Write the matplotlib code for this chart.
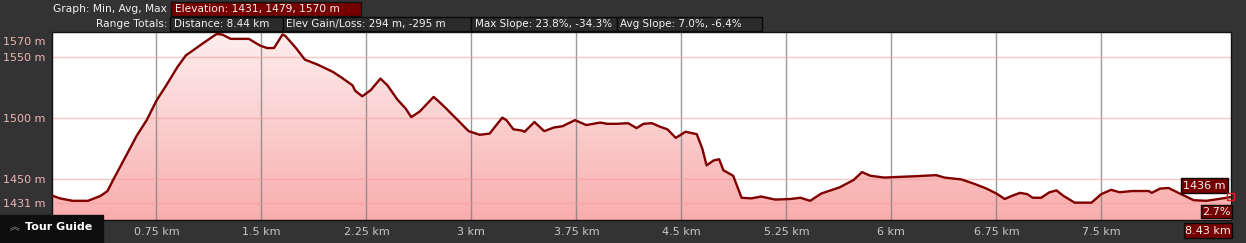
import matplotlib.pyplot as plt
from matplotlib.patches import Rectangle
from matplotlib.colors import LinearSegmentedColormap
import matplotlib.transforms as mtransforms
import numpy as np

# ---- data (distance in km, elevation in m)
dist_km = [0.00, 0.06, 0.15, 0.26, 0.35, 0.40, 0.44, 0.51, 0.61, 0.68,
           0.75, 0.82, 0.90, 0.96, 1.01, 1.09, 1.18, 1.22, 1.28, 1.32,
           1.41, 1.49, 1.54, 1.59, 1.65, 1.67, 1.75, 1.81, 1.90, 2.01,
           2.07, 2.15, 2.17, 2.22, 2.28, 2.35, 2.40, 2.47, 2.53, 2.57,
           2.63, 2.73, 2.76, 2.82, 2.85, 2.92, 2.98, 3.06, 3.13, 3.22,
           3.25, 3.30, 3.36, 3.38, 3.45, 3.52, 3.59, 3.65, 3.74, 3.82,
           3.92, 3.97, 4.04, 4.12, 4.18, 4.23, 4.29, 4.35, 4.40, 4.46,
           4.53, 4.61, 4.65, 4.68, 4.73, 4.77, 4.80, 4.87, 4.93, 5.00,
           5.07, 5.17, 5.28, 5.35, 5.42, 5.50, 5.63, 5.73, 5.79, 5.85,
           5.95, 6.04, 6.15, 6.32, 6.38, 6.50, 6.59, 6.68, 6.75, 6.81,
           6.86, 6.92, 6.97, 7.01, 7.07, 7.13, 7.18, 7.23, 7.31, 7.43,
           7.50, 7.57, 7.63, 7.72, 7.84, 7.86, 7.92, 7.98, 8.06, 8.16,
           8.25, 8.34, 8.42]
elev_m = [1437, 1434.5, 1432.5, 1432.5, 1436.5, 1440.5, 1449.5, 1464.5, 1486, 1498.5,
          1514.5, 1527, 1542, 1551.5, 1555.5, 1562, 1569, 1568.5, 1565, 1565,
          1565, 1559.5, 1557.5, 1557.5, 1568.5, 1567.5, 1557, 1548, 1544, 1538,
          1533.5, 1527, 1522.5, 1518, 1523, 1532.5, 1527, 1515.5, 1508, 1501,
          1505.5, 1517.5, 1514.5, 1508, 1504.5, 1496.5, 1489.5, 1486.5, 1487.5, 1500.5,
          1498.5, 1491, 1490, 1489, 1497, 1489.5, 1492.5, 1493.5, 1498.5, 1494.5,
          1496.5, 1495.5, 1495.5, 1496, 1492, 1495.5, 1496, 1493, 1491, 1484,
          1489, 1487, 1475, 1461.5, 1465.5, 1466.5, 1457.5, 1453, 1435, 1434.5,
          1436, 1433.5, 1434, 1435, 1432.5, 1438.5, 1443.5, 1449.5, 1456, 1453,
          1451.5, 1452, 1452.5, 1453.5, 1451.5, 1450, 1446.5, 1442.5, 1438.5, 1434,
          1436.5, 1439, 1438, 1435, 1435, 1439.5, 1441, 1436.5, 1431, 1431,
          1438, 1441.5, 1439.5, 1440.5, 1440.5, 1439, 1442.5, 1443, 1438.5, 1433,
          1432.5, 1434, 1435.5]

x_ticks = [0.75, 1.5, 2.25, 3.0, 3.75, 4.5, 5.25, 6.0, 6.75, 7.5]
x_tick_labels = ['0.75 km', '1.5 km', '2.25 km', '3 km', '3.75 km', '4.5 km',
                 '5.25 km', '6 km', '6.75 km', '7.5 km']
y_ticks = [1431, 1450, 1500, 1550, 1570]
y_tick_labels = ['1431 m', '1450 m', '1500 m', '1550 m', '1570 m']

header_row1 = ('Graph: Min, Avg, Max', 'Elevation: 1431, 1479, 1570 m')
header_row2 = ('Range Totals:', ['Distance: 8.44 km', 'Elev Gain/Loss: 294 m, -295 m',
                                 'Max Slope: 23.8%, -34.3%', 'Avg Slope: 7.0%, -6.4%'])
cursor_labels = ['1436 m', '2.7%', '8.43 km']

# ---- colours
bg = '#333333'
dark_red = '#760000'
line_col = '#800000'
ytxt = '#f2b4b4'
xtxt = '#c8c8c8'
htxt = '#f2f2f2'

W, H = 1246, 243
fig = plt.figure(figsize=(W / 100, H / 100), dpi=100, facecolor=bg)


def fx(px):
    return px / W


def fy(py):
    return 1 - py / H


def box(x0, y0, x1, y1, fc, ec='#111111', lw=1.0):
    fig.patches.append(Rectangle((fx(x0), fy(y1)), fx(x1 - x0), (y1 - y0) / H,
                                 transform=fig.transFigure, fc=fc, ec=ec, lw=lw))


ax = fig.add_axes([fx(51.5), fy(220), fx(1230.5 - 51.5), (220 - 32.5) / H])
ax.set_xlim(0, 8.423)
ax.set_ylim(1416.8, 1570.2)
ax.set_facecolor('white')

# gradient fill under profile
grad = np.linspace(0, 1, 256).reshape(-1, 1)
cmap = LinearSegmentedColormap.from_list('pk', ['#f9adad', '#fdeeee'])
im = ax.imshow(grad, aspect='auto', cmap=cmap, origin='lower',
               extent=[0, 8.423, 1416.8, 1570.2], zorder=1)
poly = ax.fill_between(dist_km, elev_m, 1400, color='none', lw=0)
im.set_clip_path(poly.get_paths()[0], transform=ax.transData)

for v in x_ticks:
    ax.axvline(v, color='#7a7a7a', lw=1, alpha=0.75, zorder=2)
for v in [1431, 1450, 1500, 1550]:
    ax.axhline(v, color='#f5a0a0', lw=1, alpha=0.6, zorder=2)

ax.plot(dist_km, elev_m, color=line_col, lw=1.7, zorder=3)

ax.set_xticks(x_ticks)
ax.set_xticklabels(x_tick_labels, color=xtxt, fontsize=8)
ax.set_yticks(y_ticks)
ax.set_yticklabels(y_tick_labels, color=ytxt, fontsize=8, ha='left')
ax.tick_params(length=0)
ax.tick_params(axis='y', pad=(51.5 - 3) * 0.72)
ax.tick_params(axis='x', pad=5)
# top label sits a little below the top edge
lab = ax.get_yticklabels()[-1]
lab.set_transform(lab.get_transform() +
                  mtransforms.ScaledTranslation(0, -8.5 / 100, fig.dpi_scale_trans))
for s in ax.spines.values():
    s.set_color('#111111')
    s.set_linewidth(1)

# header
fs = 7.7
fig.text(fx(167), fy(9), header_row1[0], color=htxt, fontsize=fs, ha='right', va='center')
box(171, 2, 361, 16, dark_red)
fig.text(fx(175), fy(9), header_row1[1], color=htxt, fontsize=fs, ha='left', va='center')

fig.text(fx(167), fy(24), header_row2[0], color=htxt, fontsize=fs, ha='right', va='center')
spans = [(170, 283), (283, 471), (471, 617), (617, 762)]
for (a, b), t in zip(spans, header_row2[1]):
    box(a, 17, b, 31, '#2b2b2b', ec='#0a0a0a')
    fig.text(fx(a + 3.5), fy(24), t, color=htxt, fontsize=7.5, ha='left', va='center')

# cursor readouts at the right end
box(1181, 178, 1228, 193, dark_red, ec='#0a0a0a')
fig.text(fx(1204.5), fy(185.8), cursor_labels[0], color=htxt, fontsize=8, ha='center', va='center')
box(1201, 205, 1232, 218, dark_red, ec='#0a0a0a')
fig.text(fx(1216.5), fy(211.8), cursor_labels[1], color=htxt, fontsize=8, ha='center', va='center')
box(1184, 223, 1232, 238, dark_red, ec='#0a0a0a')
fig.text(fx(1208), fy(230.8), cursor_labels[2], color=htxt, fontsize=8, ha='center', va='center')
fig.patches.append(Rectangle((fx(1227), fy(199.5)), fx(7), 7 / H, transform=fig.transFigure,
                             fc='none', ec='#e02020', lw=1))

# tour guide tab
box(0, 215, 103, 243, '#0e0e0e', ec='#0e0e0e')
fig.text(fx(15), fy(227), '\ufe3d', color='#9a9a9a', fontsize=7, ha='center', va='center',
         family=['Noto Sans CJK JP', 'DejaVu Sans'])
fig.text(fx(25), fy(227), 'Tour Guide', color='white', fontsize=8, fontweight='bold',
         ha='left', va='center')

fig.savefig('out.png', dpi=100, facecolor=bg)
